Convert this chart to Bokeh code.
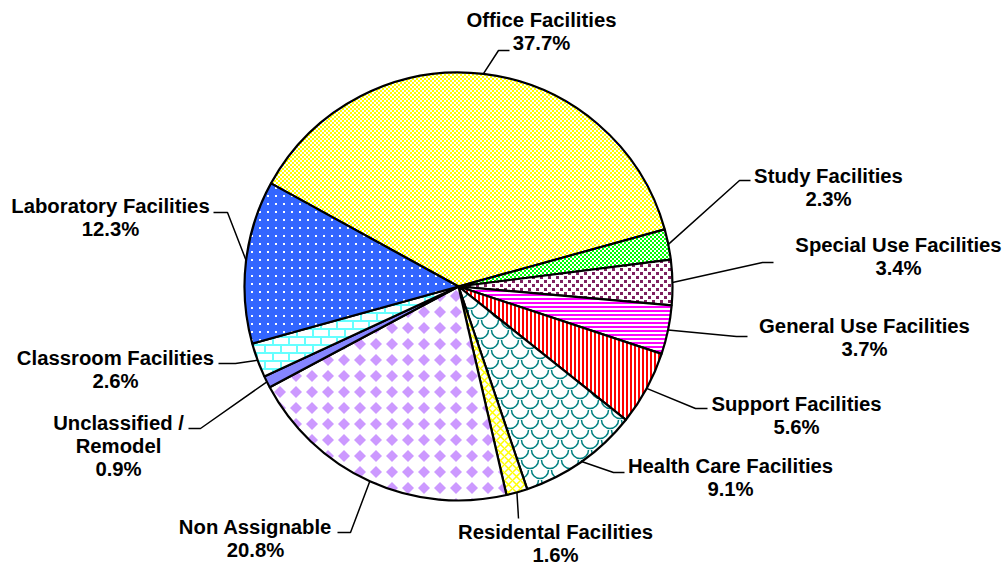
import math
from bokeh.plotting import figure
from bokeh.models import ColumnDataSource, Range1d, CanvasTexture
from bokeh.core.properties import value
from bokeh.embed import file_html
from bokeh.resources import INLINE

# ---- data ----
categories = ["Office Facilities", "Study Facilities", "Special Use Facilities",
              "General Use Facilities", "Support Facilities", "Health Care Facilities",
              "Residental Facilities", "Non Assignable", "Unclassified /\nRemodel",
              "Classroom Facilities", "Laboratory Facilities"]
shares = [37.7, 2.3, 3.4, 3.7, 5.6, 9.1, 1.6, 20.8, 0.9, 2.6, 12.3]

# ---- styles ----
fill_colors = ["#FFFF00", "#00FF00", "#FFFFFF", "#FFFFFF", "#FFFFFF", "#FFFFFF",
               "#FFFFFF", "#FFFFFF", "#8585FF", "#FFFFFF", "#3366FF"]
hatch_colors = ["#FFFFFF", "#FFFFFF", "#7F2060", "#FF00FF", "#FF0000", "#008080",
                "#FFFF00", "#CC99FF", "#8585FF", "#66FFFF", "#FFFFFF"]
hatch_patterns = ["checker_y", "checker_g", "squares", "horizontal_line", "vertical_line",
                  "shingles", "diagonal_cross", "diamonds", "blank", "bricks", "labdots"]
hatch_scales = [4, 4, 8, 4, 4, 20, 8, 16, 1, 16, 8]
hatch_weights = [1, 1, 1, 2, 2, 1.5, 1.5, 1, 1, 1, 1]


def tex(size, body):
    return CanvasTexture(code=(
        f"ctx.canvas.width = {size}; ctx.canvas.height = {size};\n" + body))


textures = {
    "checker_y": tex(4, """
        ctx.fillStyle = '#FFFF00'; ctx.fillRect(0, 0, 4, 4);
        ctx.fillStyle = '#FFFFFF'; ctx.fillRect(0, 0, 2, 2); ctx.fillRect(2, 2, 2, 2);
    """),
    "checker_g": tex(4, """
        ctx.fillStyle = '#00FF00'; ctx.fillRect(0, 0, 4, 4);
        ctx.fillStyle = '#FFFFFF'; ctx.fillRect(0, 0, 2, 2); ctx.fillRect(2, 2, 2, 2);
    """),
    "squares": tex(8, """
        ctx.fillStyle = '#FFFFFF'; ctx.fillRect(0, 0, 8, 8);
        ctx.fillStyle = '#7F2060'; ctx.fillRect(0, 0, 3, 3); ctx.fillRect(4, 4, 3, 3);
    """),
    "diamonds": tex(16, """
        ctx.fillStyle = '#FFFFFF'; ctx.fillRect(0, 0, 16, 16);
        ctx.fillStyle = '#CC99FF';
        ctx.beginPath(); ctx.moveTo(8, 2); ctx.lineTo(14, 8); ctx.lineTo(8, 14);
        ctx.lineTo(2, 8); ctx.closePath(); ctx.fill();
    """),
    "bricks": tex(16, """
        ctx.fillStyle = '#FFFFFF'; ctx.fillRect(0, 0, 16, 16);
        ctx.fillStyle = '#66FFFF';
        ctx.fillRect(0, 0, 16, 2); ctx.fillRect(0, 8, 16, 2);
        ctx.fillRect(0, 0, 2, 8); ctx.fillRect(8, 8, 2, 8);
    """),
    "labdots": tex(8, """
        ctx.fillStyle = '#3366FF'; ctx.fillRect(0, 0, 8, 8);
        ctx.fillStyle = '#FFFFFF'; ctx.fillRect(3, 3, 2, 2);
    """),
    "shingles": tex(20, """
        ctx.fillStyle = '#FFFFFF'; ctx.fillRect(0, 0, 20, 20);
        ctx.strokeStyle = '#008080'; ctx.lineWidth = 1.5;
        ctx.beginPath(); ctx.arc(10, 0, 8.5, 0, Math.PI); ctx.stroke();
        ctx.beginPath(); ctx.arc(0, 10, 8.5, 0, Math.PI); ctx.stroke();
        ctx.beginPath(); ctx.arc(20, 10, 8.5, 0, Math.PI); ctx.stroke();
        ctx.beginPath(); ctx.arc(10, 20, 8.5, 0, Math.PI); ctx.stroke();
    """),
}

W, H = 1005, 565
CX, CY, R = 458, 286, 214
START_DEG = 151.2

# label layout (pixel coords, y down): text centre x, first baseline y,
# leader elbow, leader end, leader angle override
label_cx = [541, 828, 898, 864, 796, 730, 555, 255, 118, 115, 110]
label_b1 = [26, 182, 251, 332, 410, 472, 538, 533, 429, 364, 212]
elbow = [(498, 50), (739, 180), (762, 262), (736, 336), (695, 408), (613, 472),
         (518, 518), (350, 532), (200, 428), (235, 363), (227, 212)]
lead_end = [(509, 50), (750, 180), (773, 262), (747, 336), (707, 408), (624, 472),
            (518, 518), (337, 532), (188, 428), (218, 363), (213, 212)]
angle_override = [None] * 10 + [173.0]
LINE_H = 23.3
TEXT_SHIFT = -7


def fy(y):
    return H - y


starts, ends, mids = [], [], []
cum = 0.0
for v in shares:
    a0 = START_DEG - cum * 3.6
    a1 = START_DEG - (cum + v) * 3.6
    starts.append(math.radians(a0))
    ends.append(math.radians(a1))
    mids.append((a0 + a1) / 2)
    cum += v

src = ColumnDataSource(dict(
    x=[CX] * len(shares), y=[fy(CY)] * len(shares),
    start=starts, end=ends, fill=fill_colors, hcol=hatch_colors,
    hpat=hatch_patterns, hscale=hatch_scales, hweight=hatch_weights,
))

p = figure(width=W, height=H, output_backend="svg", toolbar_location=None,
           x_range=Range1d(0, W), y_range=Range1d(0, H), min_border=0)
p.axis.visible = False
p.grid.visible = False
p.outline_line_color = None
p.background_fill_color = "white"

# leader lines
xs, ys = [], []
for i, m in enumerate(mids):
    ang = angle_override[i] if angle_override[i] is not None else m
    sx = CX + R * math.cos(math.radians(ang))
    sy = CY - R * math.sin(math.radians(ang))
    xs.append([sx, elbow[i][0], lead_end[i][0]])
    ys.append([fy(sy), fy(elbow[i][1]), fy(lead_end[i][1])])
p.multi_line(xs, ys, line_color="black", line_width=1.5)

p.wedge(x="x", y="y", radius=R, start_angle="start", end_angle="end",
        direction="clock", source=src, fill_color="fill",
        hatch_color="hcol", hatch_pattern="hpat", hatch_scale="hscale",
        hatch_weight="hweight", hatch_extra=textures,
        line_color="black", line_width=2.2)

tx, ty, tt = [], [], []
for i, c in enumerate(categories):
    lines = c.split("\n") + [f"{shares[i]:.1f}%"]
    for k, ln in enumerate(lines):
        tx.append(label_cx[i])
        ty.append(fy(label_b1[i] + k * LINE_H + TEXT_SHIFT))
        tt.append(ln)
p.text(x=tx, y=ty, text=tt, text_font=value("Liberation Sans"),
       text_font_style="bold", text_font_size="20.3px", text_align="center",
       text_baseline="alphabetic", text_color="black")

open("out.html", "w").write(file_html(p, INLINE))
